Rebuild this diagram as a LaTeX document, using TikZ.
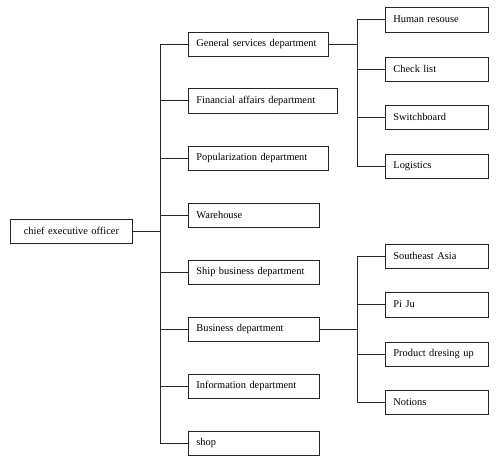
\documentclass[tikz,border=0pt]{standalone}
\usepackage{fontspec}
\setmainfont{Liberation Serif}
\begin{document}
\begin{tikzpicture}[x=1pt,y=-1pt,
  box/.style={draw=black!85,line width=0.8pt,fill=white,minimum height=24pt,inner xsep=8pt,inner ysep=0pt,align=left,anchor=west,font=\fontsize{10.4}{12}\selectfont},
  conn/.style={draw=black!85,line width=0.8pt}]
\useasboundingbox (0,0) rectangle (500,467);
% root
\node[box,align=center,text width=106pt] (ceo) at (10,231) {chief executive officer};
% departments
\node[box,text width=124pt] (gen) at (188,44) {General services department};
\node[box,text width=133pt,minimum height=25pt] (fin) at (188,100.5) {Financial affairs department};
\node[box,text width=124pt] (pop) at (188,158) {Popularization department};
\node[box,text width=115pt] (war) at (188,215) {Warehouse};
\node[box,text width=115pt] (ship) at (188,272) {Ship business department};
\node[box,text width=115pt] (bus) at (188,329) {Business department};
\node[box,text width=115pt] (inf) at (188,386) {Information department};
\node[box,text width=115pt] (shop) at (188,443) {shop};
% sub boxes
\node[box,text width=87pt,minimum height=25pt] (hum) at (385,19.5) {Human resouse};
\node[box,text width=87pt] (chk) at (385,69) {Check list};
\node[box,text width=87pt] (swi) at (385,117) {Switchboard};
\node[box,text width=87pt] (log) at (385,166) {Logistics};
\node[box,text width=87pt] (sea) at (385,256) {Southeast Asia};
\node[box,text width=87pt,minimum height=25pt] (piju) at (385,304.5) {Pi Ju};
\node[box,text width=87pt] (prod) at (385,354) {Product dresing up};
\node[box,text width=87pt] (noti) at (385,402) {Notions};
% bus coordinates
\coordinate (bx) at (160,0);
\coordinate (sx) at (357,0);
% main tree
\draw[conn] (ceo.east) -- (ceo.east -| bx);
\draw[conn] (gen.west) -- (gen.west -| bx) -- (shop.west -| bx) -- (shop.west);
\foreach \n in {fin,pop,war,ship,bus,inf}{\draw[conn] (\n.west) -- (\n.west -| bx);}
% general services subtree
\draw[conn] (gen.east) -- (gen.east -| sx);
\draw[conn] (hum.west) -- (hum.west -| sx) -- (log.west -| sx) -- (log.west);
\foreach \n in {chk,swi}{\draw[conn] (\n.west) -- (\n.west -| sx);}
% business subtree
\draw[conn] (bus.east) -- (bus.east -| sx);
\draw[conn] (sea.west) -- (sea.west -| sx) -- (noti.west -| sx) -- (noti.west);
\foreach \n in {piju,prod}{\draw[conn] (\n.west) -- (\n.west -| sx);}
\end{tikzpicture}
\end{document}
